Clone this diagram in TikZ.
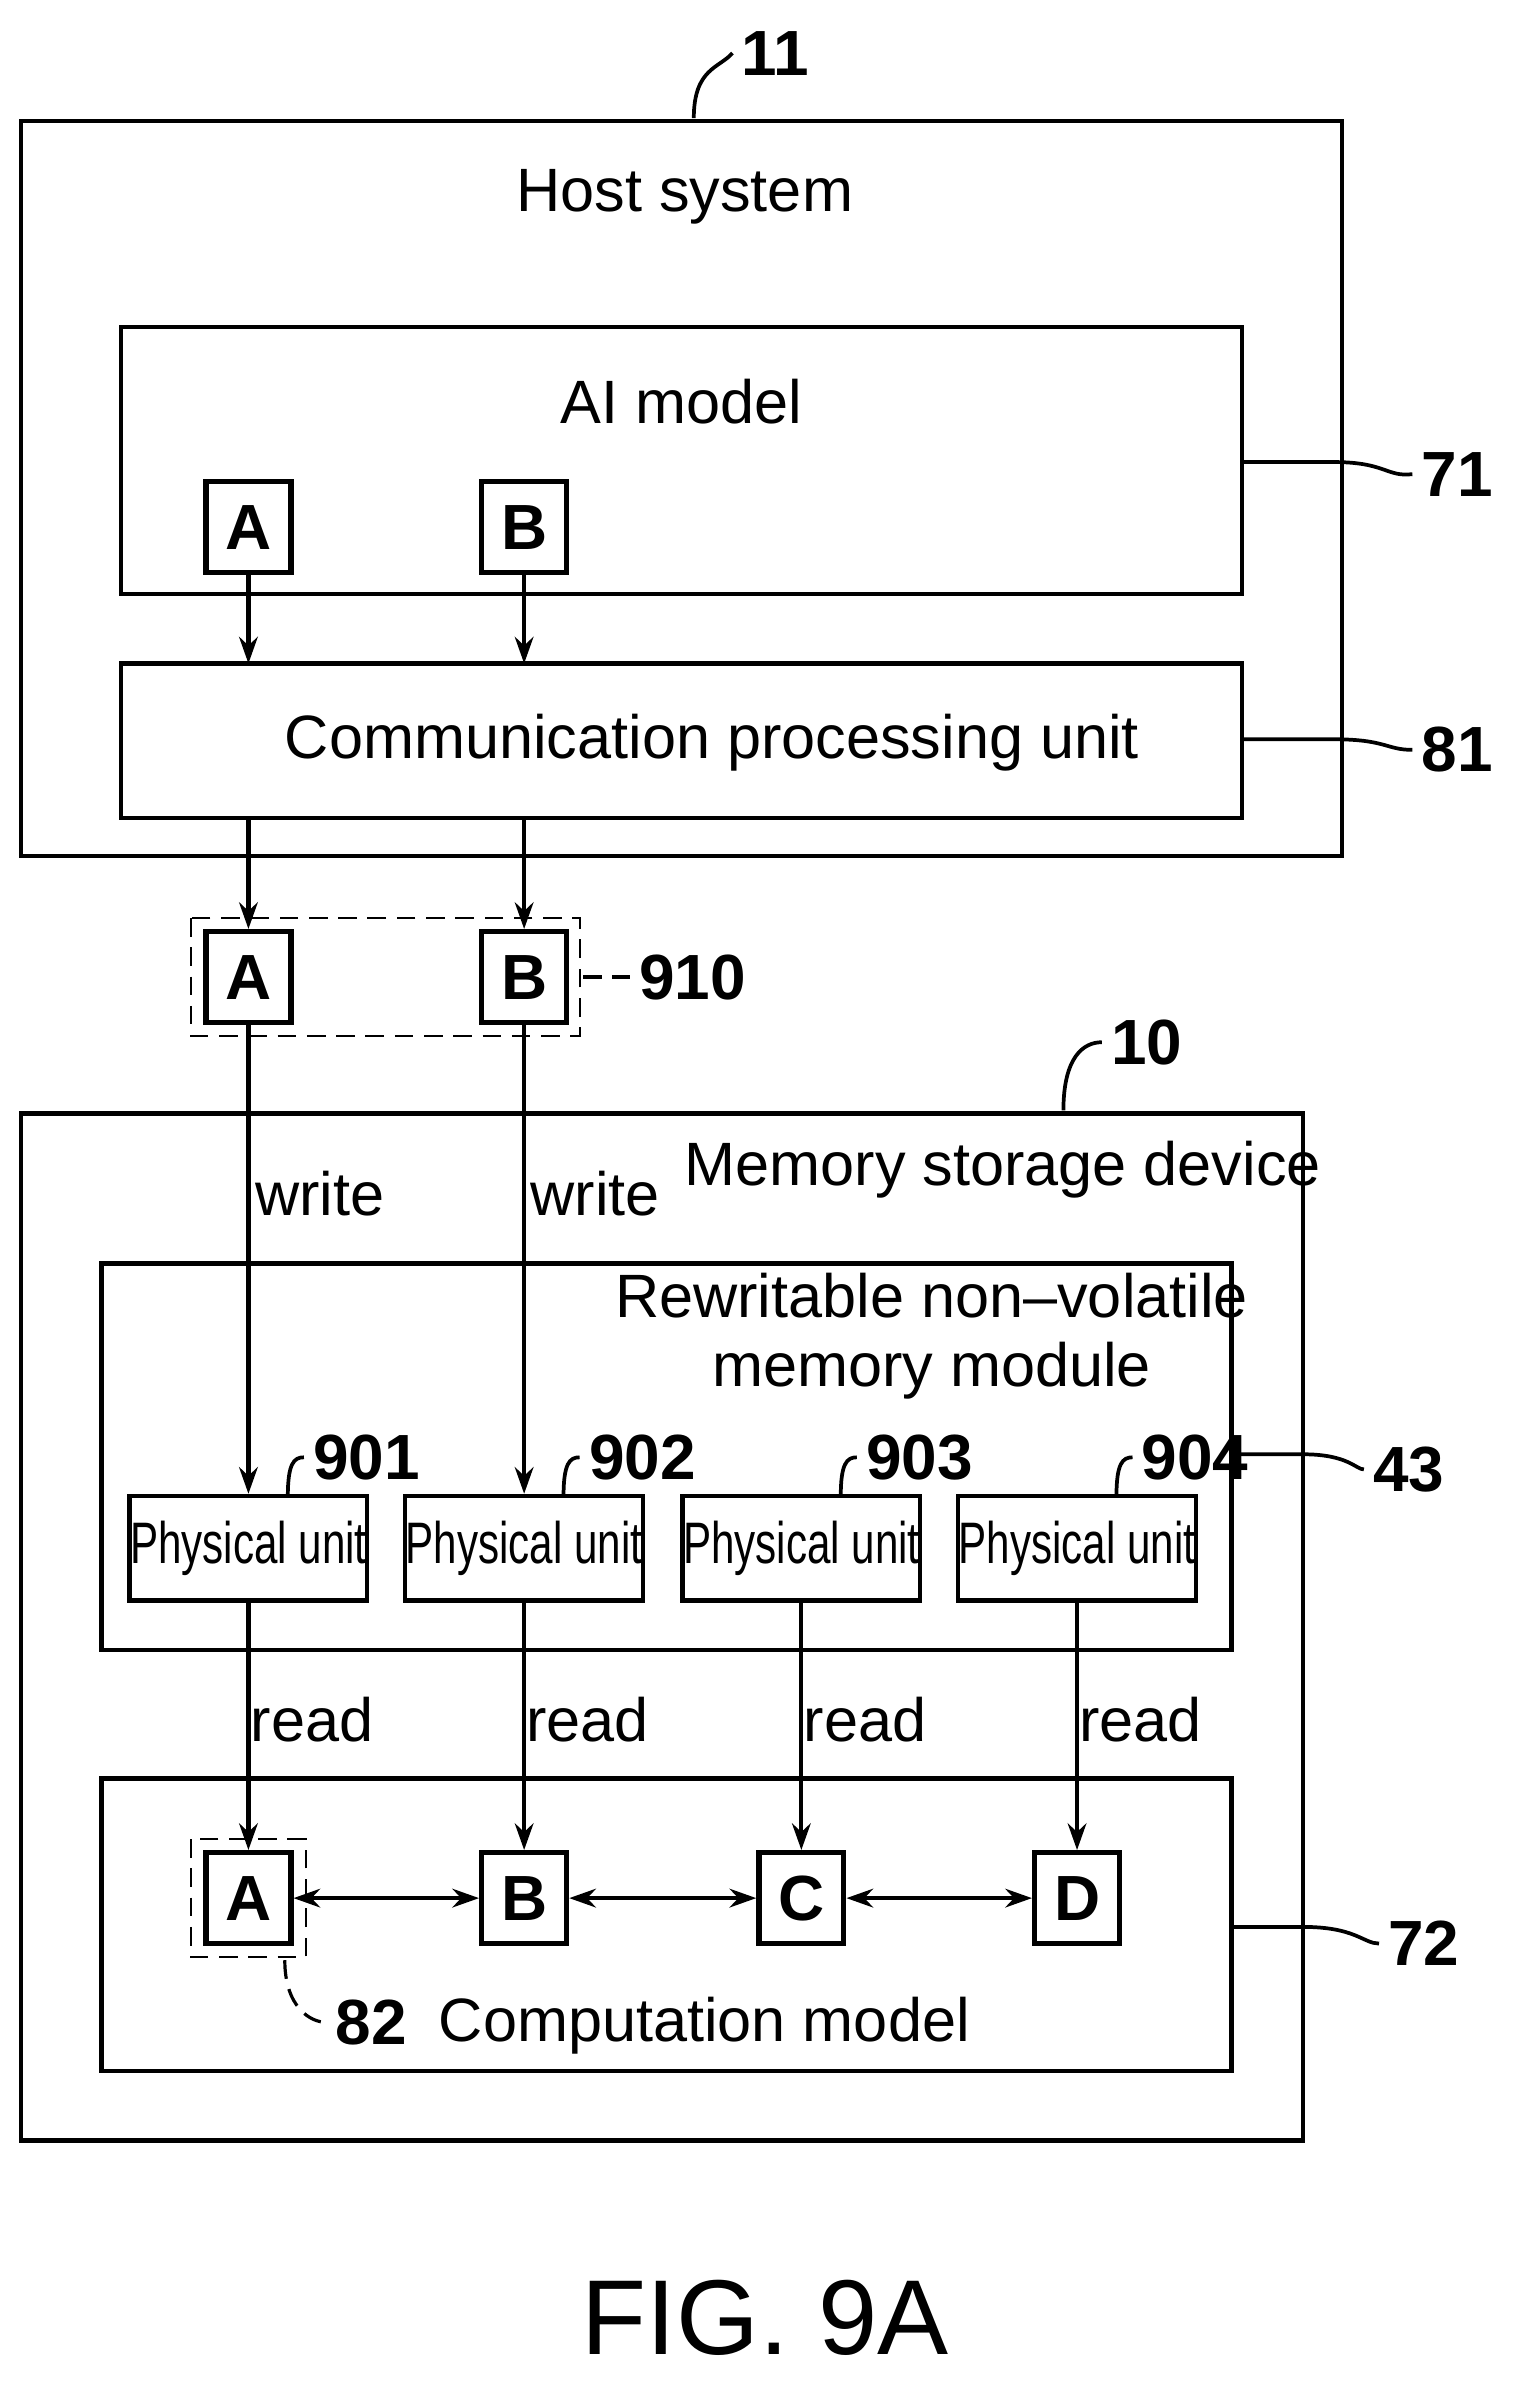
\documentclass[tikz,border=0pt]{standalone}
\usepackage{fontspec}
\setmainfont{Liberation Sans}
\usetikzlibrary{arrows.meta}
\begin{document}
\begin{tikzpicture}[x=0.02cm,y=-0.02cm,
 box/.style={draw,line width=1.6pt},
 lt/.style={draw,line width=2pt,minimum width=56*0.02cm,minimum height=60*0.02cm,inner sep=0pt,font=\fontsize{24}{24}\selectfont\bfseries},
 pu/.style={draw,line width=1.6pt,minimum width=157*0.02cm,minimum height=69*0.02cm,inner sep=0pt},
 arr/.style={line width=1.6pt,-{Stealth[length=10pt,width=7pt]}},
 darr/.style={line width=1.6pt,{Stealth[length=10pt,width=7pt]}-{Stealth[length=10pt,width=7pt]}},
 txt/.style={font=\fontsize{23}{26}\selectfont},
 num/.style={font=\fontsize{24}{24}\selectfont\bfseries},
 lead/.style={line width=1.4pt},
 dsh/.style={line width=0.9pt,dash pattern=on 7pt off 4pt}]
\useasboundingbox (0,0) rectangle (1000,1583);
% host
\draw[box] (14,80) rectangle (886,565);
\node[txt] (host) at (452,130) {Host system};
\node[num] (n11) at (512,35) {11};
\draw[lead] (458,78) .. controls (458,45) and (475,45) .. (n11.west);
\draw[box] (80,216) rectangle (820,392);
\node[txt] (ai) at (450,265) {AI model};
\coordinate (ai71) at (820,305);
\node[num] (n71) at (962,313) {71};
\draw[lead] (ai71) -- (880,305) .. controls (915,305) and (915,315) .. (n71.west);
\node[lt] (A1) at (164,348) {A};
\node[lt] (B1) at (346,348) {B};
\draw[box] (80,438) rectangle (820,540);
\node[txt] (comm) at (470,490) {Communication processing unit};
\coordinate (c81) at (820,488);
\node[num] (n81) at (962,495) {81};
\draw[lead] (c81) -- (880,488) .. controls (915,488) and (915,495) .. (n81.west);
\draw[arr] (A1.south) -- (164,438);
\draw[arr] (B1.south) -- (346,438);
\node[lt] (A2) at (164,645) {A};
\node[lt] (B2) at (346,645) {B};
\draw[arr] (164,540) -- (A2.north);
\draw[arr] (346,540) -- (B2.north);
\draw[dsh] (126,606) rectangle (383,684);
\node[num] (n910) at (457,645) {910};
\draw[dsh,line width=1.2pt] (385,645) -- (n910.west);
% memory
\draw[box] (14,735) rectangle (860,1413);
\node[txt] (msd) at (662,772) {Memory storage device};
\node[num] (n10) at (757,688) {10};
\draw[lead] (702,733) .. controls (702,698) and (715,688) .. (n10.west);
\draw[box] (67,834) rectangle (813,1089);
\node[txt,align=center] (rw) at (615,882) {Rewritable non--volatile\\memory module};
\node[num] (n43) at (930,970) {43};
\draw[lead] (813,960) -- (860,960) .. controls (890,960) and (895,970) .. (n43.west);
\foreach \i/\x/\n in {1/164/901,2/346/902,3/529/903,4/711/904}{
  \node[pu] (P\i) at (\x,1022) {\fontsize{22}{22}\selectfont\scalebox{0.72}[1]{Physical unit}};
  \node[num] (L\i) at (\x+78,962) {\n};
  \draw[lead] (\x+26,988) .. controls (\x+26,966) and (\x+30,962) .. (L\i.west);
}
\draw[arr] (A2.south) -- (P1.north);
\draw[arr] (B2.south) -- (P2.north);
\node[txt] (w1) at (211,788) {write};
\node[txt] (w2) at (393,788) {write};
\draw[box] (67,1174) rectangle (813,1367);
\node[txt] (cm) at (465,1337) {Computation model};
\node[num] (n72) at (940,1283) {72};
\draw[lead] (813,1272) -- (860,1272) .. controls (895,1272) and (900,1283) .. (n72.west);
\foreach \i/\x/\l in {1/164/A,2/346/B,3/529/C,4/711/D}{
  \node[lt] (Q\i) at (\x,1253) {\l};
  \draw[arr] (P\i.south) -- (Q\i.north);
  \node[txt] (r\i) at (\x+42,1135) {read};
}
\draw[darr] (Q1.east) -- (Q2.west);
\draw[darr] (Q2.east) -- (Q3.west);
\draw[darr] (Q3.east) -- (Q4.west);
\draw[dsh] (126,1214) rectangle (202,1292);
\node[num] (n82) at (245,1335) {82};
\draw[dsh,line width=1.2pt] (188,1294) .. controls (188,1325) and (205,1335) .. (n82.west);
\node[font=\fontsize{40}{40}\selectfont] (fig) at (505,1530) {FIG. 9A};
\end{tikzpicture}
\end{document}
